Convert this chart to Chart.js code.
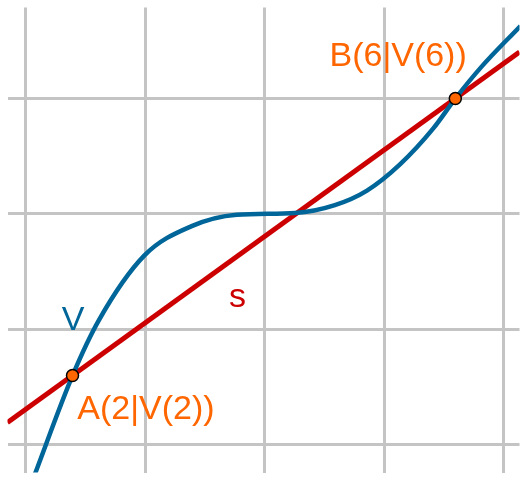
<!DOCTYPE html>
<html><head><script src="https://cdn.jsdelivr.net/npm/chart.js@4"></script>
<style>html,body{margin:0;padding:0;background:#fff}#w{width:527px;height:480px}</style></head>
<body><div id="w"><canvas id="c"></canvas></div>
<script>
const curveX=[0.065,0.390,0.610,0.992,1.382,1.764,2.252,2.585,2.854,3.130,3.407,3.593,3.813,4.138];
const curveY=[-0.286,0.597,1.076,1.639,1.891,1.992,2.008,2.076,2.202,2.429,2.739,3.0,3.277,3.63];
const lineX=[-0.154,4.13];
const lineY=[0.189,3.403];
const ptX=[0.390,3.593];
const ptY=[0.597,3.0];
const gridTicks=[0,1,2,3,4];
const labels=[
 {t:'B(6|V(6))',x:2.54,y:3.28,c:'#ff6600'},
 {t:'A(2|V(2))',x:0.43,y:0.22,c:'#ff6600'},
 {t:'V',x:0.30,y:0.99,c:'#006699'},
 {t:'s',x:1.70,y:1.19,c:'#cc0000'}];
const zip=(a,b)=>a.map((v,i)=>({x:v,y:b[i]}));
const txt={id:'txt',afterDatasetsDraw(ch){const{ctx,scales:{x,y}}=ch;ctx.save();ctx.font='34px "Liberation Sans", Arial, sans-serif';ctx.textBaseline='alphabetic';
labels.forEach(l=>{ctx.fillStyle=l.c;ctx.fillText(l.t,x.getPixelForValue(l.x),y.getPixelForValue(l.y));});ctx.restore();}};
new Chart(document.getElementById('c'),{type:'scatter',
data:{datasets:[
 {data:zip(ptX,ptY),showLine:false,pointRadius:6,pointBackgroundColor:'#ff6600',pointBorderColor:'#000',pointBorderWidth:1.5,order:0},
 {data:zip(lineX,lineY),showLine:true,borderColor:'#cc0000',borderWidth:5,pointRadius:0,order:2},
 {data:zip(curveX,curveY),showLine:true,borderColor:'#006699',borderWidth:4.5,pointRadius:0,cubicInterpolationMode:'monotone',order:1}
]},
options:{responsive:true,maintainAspectRatio:false,animation:false,layout:{padding:0},
plugins:{legend:{display:false},tooltip:{enabled:false}},
scales:{
 x:{type:'linear',min:-0.154,max:4.13,afterBuildTicks:s=>{s.ticks=gridTicks.map(v=>({value:v}))},ticks:{display:false},border:{display:false},grid:{color:'#c4c4c4',lineWidth:3,drawTicks:false}},
 y:{type:'linear',min:-0.244,max:3.79,afterBuildTicks:s=>{s.ticks=gridTicks.map(v=>({value:v}))},ticks:{display:false},border:{display:false},grid:{color:'#c4c4c4',lineWidth:3,drawTicks:false}}
}},plugins:[txt]});
</script></body></html>
